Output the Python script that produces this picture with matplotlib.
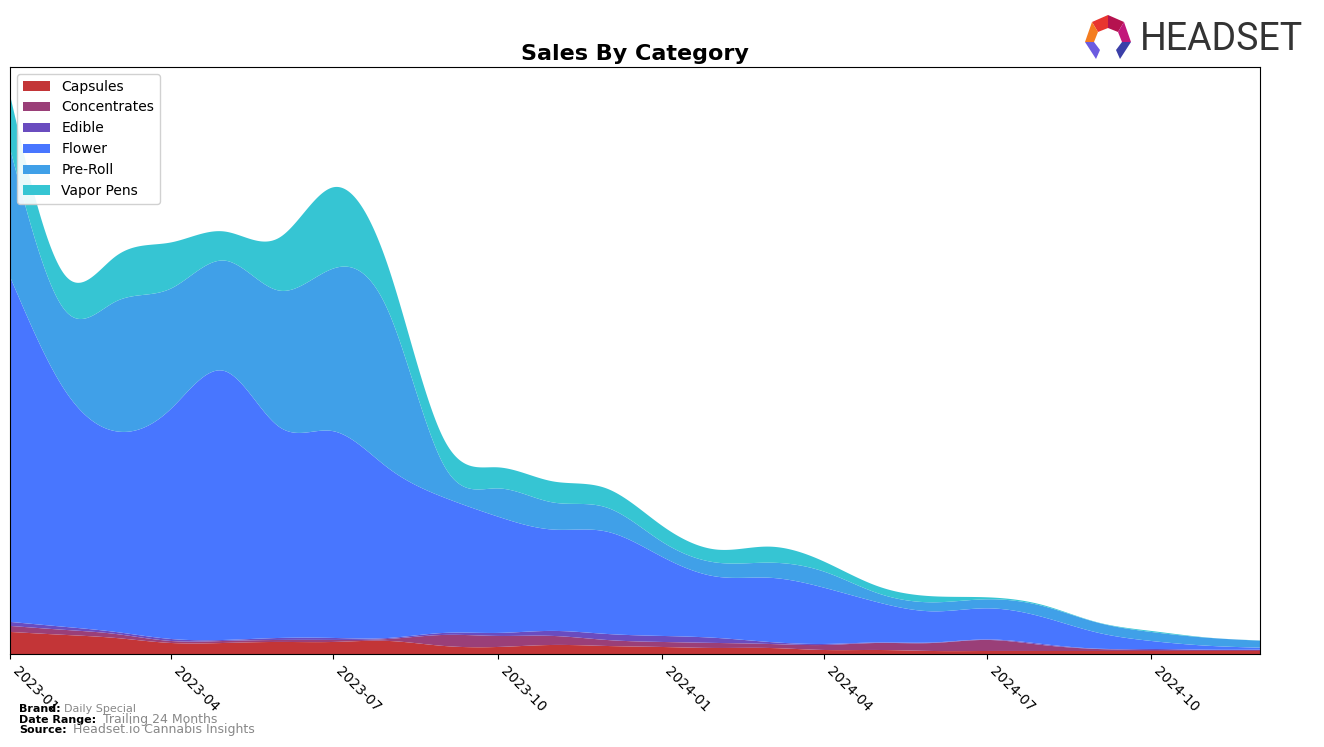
import numpy as np
import pandas as pd
import matplotlib
matplotlib.use("Agg")
import matplotlib.pyplot as plt
import matplotlib.dates as mdates
from matplotlib.patches import Polygon

# ---- data (monthly, arbitrary units) ----
months = pd.date_range("2023-01-01", "2024-12-01", freq="MS")
categories = ["Capsules", "Concentrates", "Edible", "Flower", "Pre-Roll", "Vapor Pens"]
capsules = [22, 19, 16, 11, 11, 12, 12, 13, 8, 7, 9, 8, 7, 6, 6, 4, 4, 3, 3, 3, 3, 3, 3, 3]
concentrates = [6, 5, 4, 2, 2, 2, 2, 2, 11, 11, 9, 6, 5, 5, 4, 5, 7, 8, 11, 6, 2, 1, 1, 1]
edible = [4, 3, 2, 2, 1, 2, 2, 1, 2, 3, 5, 6, 6, 5, 2, 1, 0.5, 0.5, 0.5, 1, 0.3, 1, 0.3, 0.3]
flower = [344, 235, 200, 229, 268, 210, 206, 169, 135, 116, 101, 102, 79, 61, 64, 56, 40, 31, 31, 27, 16, 8, 4, 2]
preroll = [128, 80, 129, 120, 110, 136, 162, 156, 32, 28, 27, 24, 15, 14, 15, 16, 9, 9, 9, 11, 10, 9, 8, 7]
vapor = [53, 35, 45, 46, 29, 53, 81, 44, 26, 21, 21, 19, 16, 13, 16, 10, 7, 6, 2, 1, 0.3, 1, 0.2, 0.2]
series = [capsules, concentrates, edible, flower, preroll, vapor]
colors = ["#c33537", "#9a3f78", "#6a4cbf", "#4876ff", "#40a0e8", "#36c5d3"]


def natural_spline(x, y, xs):
    x = np.asarray(x, float)
    y = np.asarray(y, float)
    n = len(x)
    h = np.diff(x)
    A = np.zeros((n, n))
    b = np.zeros(n)
    A[0, 0] = A[-1, -1] = 1.0
    for i in range(1, n - 1):
        A[i, i - 1] = h[i - 1]
        A[i, i] = 2 * (h[i - 1] + h[i])
        A[i, i + 1] = h[i]
        b[i] = 3 * ((y[i + 1] - y[i]) / h[i] - (y[i] - y[i - 1]) / h[i - 1])
    c = np.linalg.solve(A, b)
    idx = np.clip(np.searchsorted(x, xs) - 1, 0, n - 2)
    dx = xs - x[idx]
    bb = (y[idx + 1] - y[idx]) / h[idx] - h[idx] * (2 * c[idx] + c[idx + 1]) / 3
    d = (c[idx + 1] - c[idx]) / (3 * h[idx])
    return y[idx] + bb * dx + c[idx] * dx ** 2 + d * dx ** 3


xn = mdates.date2num(months.to_pydatetime())
xs = np.linspace(xn[0], xn[-1], 800)
smooth = [np.clip(natural_spline(xn, s, xs), 0, None) for s in series]

fig = plt.figure(figsize=(13.24, 7.47), dpi=100)
ax = fig.add_axes([10 / 1324, 1 - 654 / 747, 1250 / 1324, 587 / 747])
ax.stackplot(xs, *smooth, labels=categories, colors=colors)

total = np.sum(smooth, axis=0)
ax.set_xlim(xn[0], xn[-1])
ax.set_ylim(0, total.max() * 1.05)
ax.set_yticks([])
ax.xaxis.set_major_locator(mdates.MonthLocator(bymonth=[1, 4, 7, 10]))
ax.xaxis.set_major_formatter(mdates.DateFormatter("%Y-%m"))
plt.setp(ax.get_xticklabels(), rotation=-45, ha="left", fontsize=10)

ax.set_title("Sales By Category", fontsize=16, fontweight="bold", pad=5)
ax.legend(loc="upper left", fontsize=10, framealpha=0.9, borderpad=0.4,
          handlelength=2.0, labelspacing=0.5)

# ---- header logo ----
fig.text(1140 / 1324, 1 - 39 / 747, "HEADSET", fontsize=27, color="#333333",
         family=["Roboto", "DejaVu Sans"], va="center", ha="left")


def P(px, py):
    return (px / 1324, 1 - py / 747)


logo_parts = [
    ([P(1092, 22), P(1108, 15), P(1108, 28), P(1098, 32)], "#e8352f"),
    ([P(1108, 15), P(1124, 22), P(1118, 32), P(1108, 28)], "#b5124f"),
    ([P(1124, 22), P(1131, 42), P(1122, 42), P(1118, 32)], "#c2187a"),
    ([P(1092, 22), P(1098, 32), P(1094, 42), P(1085, 42)], "#f47c20"),
    ([P(1085, 42), P(1094, 42), P(1100, 50), P(1096, 59)], "#6b5be0"),
    ([P(1131, 42), P(1122, 42), P(1116, 50), P(1120, 59)], "#3b3fa8"),
]
for pts, col in logo_parts:
    fig.patches.append(Polygon(pts, closed=True, transform=fig.transFigure,
                               facecolor=col, edgecolor="none"))

# ---- footer ----
fig.text(19 / 1324, 1 - 709 / 747, "Brand:", fontsize=8, fontweight="bold", va="center")
fig.text(64 / 1324, 1 - 709 / 747, "Daily Special", fontsize=8, color="#888888", va="center")
fig.text(19 / 1324, 1 - 720 / 747, "Date Range:", fontsize=8, fontweight="bold", va="center")
fig.text(103 / 1324, 1 - 720 / 747, "Trailing 24 Months", fontsize=9, color="#888888", va="center")
fig.text(19 / 1324, 1 - 730 / 747, "Source:", fontsize=8, fontweight="bold", va="center")
fig.text(73 / 1324, 1 - 730 / 747, "Headset.io Cannabis Insights", fontsize=9, color="#888888", va="center")

fig.savefig("out.png", dpi=100)
